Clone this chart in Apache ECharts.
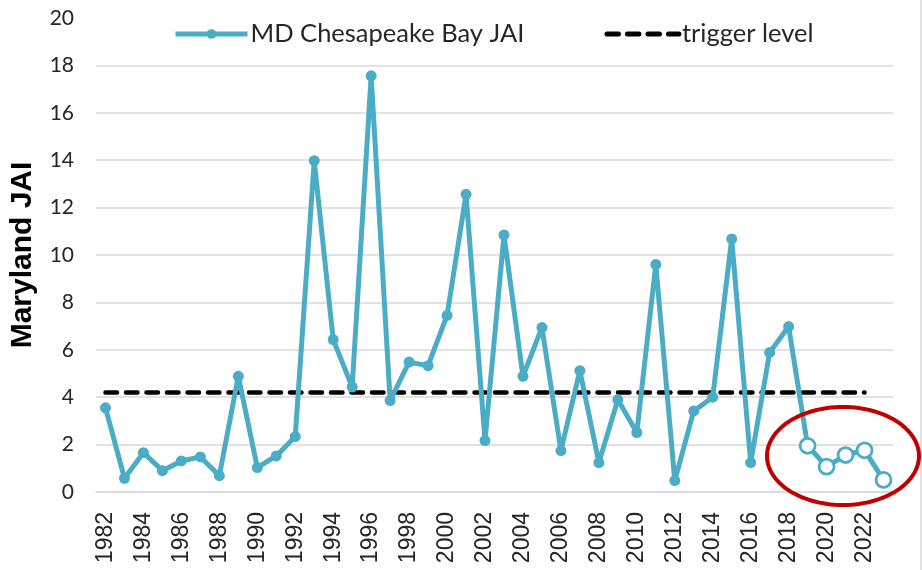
<!DOCTYPE html>
<html>
<head>
<meta charset="utf-8">
<script src="https://cdn.jsdelivr.net/npm/echarts@6/dist/echarts.min.js"></script>
<style>html,body{margin:0;padding:0;background:#fff}#c{width:922px;height:570px}</style>
</head>
<body>
<div id="c"></div>
<script>
const years = [];
for (let y = 1982; y <= 2023; y++) years.push(String(y));
const jai = [3.55, 0.58, 1.66, 0.9, 1.31, 1.48, 0.69, 4.88, 1.03, 1.52, 2.34, 13.98, 6.43, 4.43, 17.56, 3.86, 5.48, 5.33, 7.45, 12.56, 2.17, 10.84, 4.88, 6.94, 1.75, 5.12, 1.24, 3.89, 2.51, 9.6, 0.48, 3.42, 4.0, 10.68, 1.24, 5.89, 6.98, 1.95, 1.07, 1.56, 1.76, 0.51];
const trigger = [4.2, 4.2, 4.2, 4.2, 4.2, 4.2, 4.2, 4.2, 4.2, 4.2, 4.2, 4.2, 4.2, 4.2, 4.2, 4.2, 4.2, 4.2, 4.2, 4.2, 4.2, 4.2, 4.2, 4.2, 4.2, 4.2, 4.2, 4.2, 4.2, 4.2, 4.2, 4.2, 4.2, 4.2, 4.2, 4.2, 4.2, 4.2, 4.2, 4.2, 4.2, null];
const hollowFrom = '2019';
const yTicks = [0, 2, 4, 6, 8, 10, 12, 14, 16, 18, 20];

const blue = '#4bacc6';
const hollowStart = years.indexOf(hollowFrom);
const jaiData = jai.map((v, i) => i >= hollowStart ? {
  value: v, symbolSize: 15,
  itemStyle: { color: '#ffffff', borderColor: blue, borderWidth: 2.8 }
} : v);

const gridColors = yTicks.map((t, i) => i === yTicks.length - 1 ? 'rgba(0,0,0,0)' : '#d9d9d9');

const ell = [];
const cx = 843, cy = 456, rx = 76, ry = 49;
for (let k = 0; k < 120; k++) {
  const a = k / 120 * Math.PI * 2;
  ell.push([cx + rx * Math.cos(a), cy + ry * Math.sin(a)]);
}

const chart = echarts.init(document.getElementById('c'));
chart.setOption({
  animation: false,
  textStyle: { fontFamily: 'Lato' },
  grid: { left: 95, right: 29, top: 18, bottom: 78 },
  legend: {
    top: 16, left: 168,
    itemWidth: 72, itemHeight: 12, itemGap: 80,
    lineStyle: { width: 5 },
    textStyle: { fontFamily: 'Lato', fontSize: 25.5, color: '#262626', padding: [0, 0, 0, -2] },
    data: [
      { name: 'MD Chesapeake Bay JAI' },
      { name: 'trigger level', itemStyle: { opacity: 0 } }
    ]
  },
  xAxis: {
    type: 'category', data: years, boundaryGap: true,
    axisLine: { show: true, lineStyle: { color: '#d9d9d9', width: 1.5 } },
    axisTick: { show: false },
    axisLabel: { rotate: 90, interval: 1, margin: 20, fontFamily: 'Liberation Sans', fontSize: 23, color: '#262626' }
  },
  yAxis: {
    type: 'value', min: 0, max: 20, interval: 2,
    name: 'Maryland JAI', nameLocation: 'middle', nameGap: 58,
    nameTextStyle: { fontFamily: 'Liberation Sans', fontWeight: 'bold', fontSize: 30, color: '#000' },
    axisLine: { show: false }, axisTick: { show: false },
    axisLabel: { margin: 22, fontFamily: 'Lato', fontSize: 21, color: '#262626' },
    splitLine: { lineStyle: { color: gridColors, width: 1.5 } }
  },
  series: [
    {
      name: 'MD Chesapeake Bay JAI', type: 'line', data: jaiData,
      symbol: 'circle', symbolSize: 11, showAllSymbol: true,
      lineStyle: { color: blue, width: 5 },
      itemStyle: { color: blue },
      z: 3
    },
    {
      name: 'trigger level', type: 'line', data: trigger,
      symbol: 'none',
      lineStyle: { color: '#000', width: 4.5, type: [11.5, 9], cap: 'round' },
      itemStyle: { color: '#000' },
      z: 2
    }
  ],
  graphic: [
    { type: 'polygon', shape: { points: ell }, style: { fill: 'none', stroke: '#c00000', lineWidth: 4 }, z: 10 },
    { type: 'line', shape: { x1: 921, y1: 0, x2: 921, y2: 570 }, style: { stroke: '#d9d9d9', lineWidth: 1.5 } }
  ]
});
</script>
</body>
</html>
